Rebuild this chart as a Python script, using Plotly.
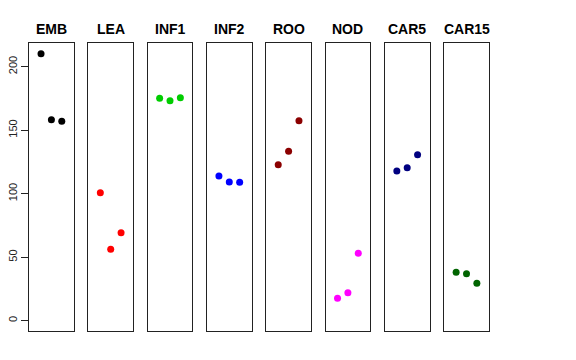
import plotly.graph_objects as go

panels = ["EMB", "LEA", "INF1", "INF2", "ROO", "NOD", "CAR5", "CAR15"]
colors = ["#000000", "#FF0000", "#00CD00", "#0000FF", "#8B0000", "#FF00FF", "#000080", "#006400"]
x_pos = [1, 2, 3]
emb = [210.2, 158.3, 157.0]
lea = [100.8, 56.2, 69.3]
inf1 = [175.1, 173.2, 175.6]
inf2 = [113.9, 109.2, 109.0]
roo = [122.8, 133.4, 157.5]
nod = [17.6, 22.0, 53.1]
car5 = [117.9, 120.5, 130.7]
car15 = [38.1, 37.0, 29.4]
values = [emb, lea, inf1, inf2, roo, nod, car5, car15]
y_ticks = [0, 50, 100, 150, 200]

W, H = 576, 360
off = 8.0  # page body margin
first_left = 29.0 - off
panel_w = 44.8
pitch = 59.3
top_px, bot_px = 42.7 - off, 330.7 - off
title_px = 29.0 - off

fig = go.Figure()
layout = dict(
    width=W, height=H,
    margin=dict(l=0, r=0, t=0, b=0, autoexpand=False),
    paper_bgcolor="white", plot_bgcolor="white",
    showlegend=False,
    font=dict(family="Liberation Sans, Arial, sans-serif", color="black"),
)
annotations = []
ydom = [1 - bot_px / H, 1 - top_px / H]
for i, (name, col, vals) in enumerate(zip(panels, colors, values)):
    k = "" if i == 0 else str(i + 1)
    fig.add_trace(go.Scatter(
        x=x_pos, y=vals, mode="markers",
        marker=dict(color=col, size=7),
        xaxis="x" + k, yaxis="y" + k, hoverinfo="skip", cliponaxis=False))
    left = first_left + i * pitch
    right = left + panel_w
    layout["xaxis" + k] = dict(
        domain=[left / W, right / W], range=[-0.16, 4.16],
        showticklabels=False, ticks="", showgrid=False, zeroline=False,
        showline=True, mirror=True, linecolor="#222222", linewidth=1,
        anchor="y" + k, fixedrange=True, automargin=False)
    ya = dict(
        domain=ydom, range=[-7.9, 218.9], anchor="x" + k,
        showgrid=False, zeroline=False,
        showline=True, mirror=True, linecolor="#222222", linewidth=1,
        fixedrange=True, automargin=False)
    if i == 0:
        ya.update(tickvals=y_ticks, ticktext=[str(v) for v in y_ticks],
                  ticks="outside", ticklen=7, tickcolor="#222222",
                  tickangle=-90, tickfont=dict(size=11, color="#222222"))
    else:
        ya.update(showticklabels=False, ticks="")
    layout["yaxis" + k] = ya
    annotations.append(dict(
        x=(left + right) / 2 / W, y=1 - title_px / H, xref="paper", yref="paper",
        text="<b>" + name + "</b>", showarrow=False,
        font=dict(size=14, color="black"), xanchor="center", yanchor="middle"))
layout["annotations"] = annotations
fig.update_layout(**layout)
fig.write_html("out.html")
